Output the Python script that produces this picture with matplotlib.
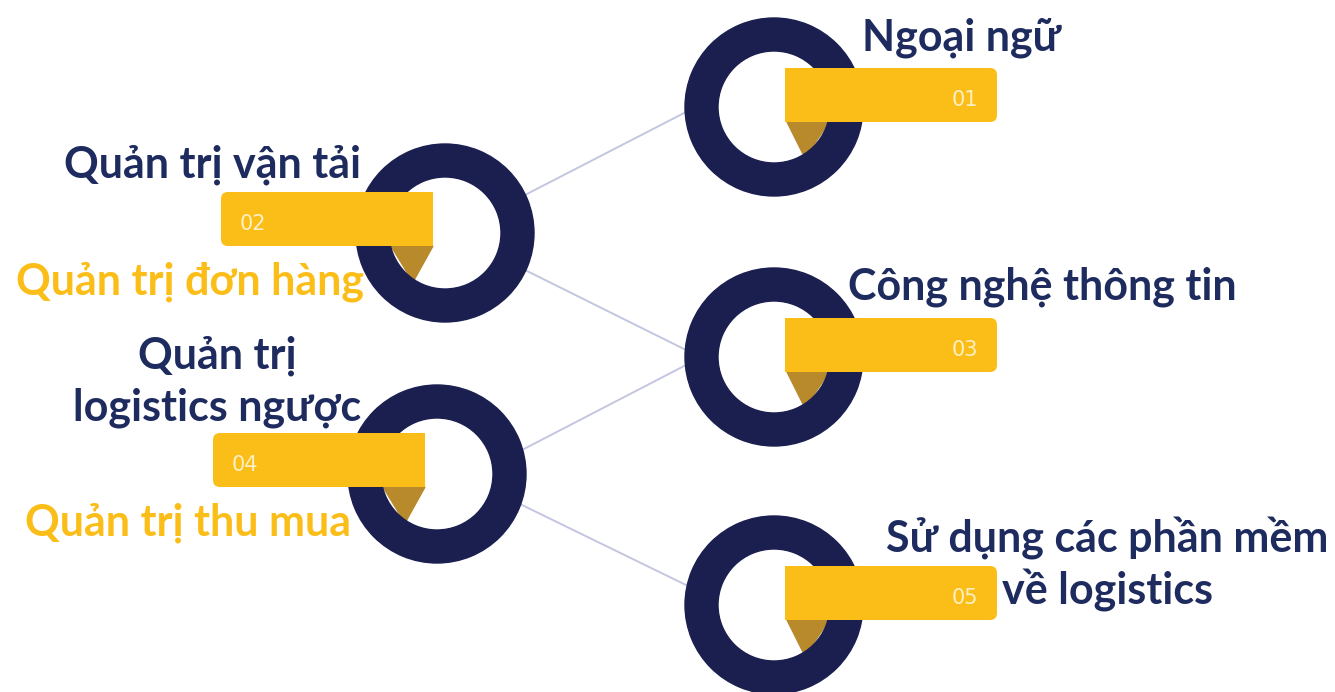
#!/usr/bin/env python3
"""Five-ring skills infographic (logistics) redrawn with matplotlib patches."""

import matplotlib

matplotlib.use("Agg")
import matplotlib.pyplot as plt
from matplotlib.patches import FancyBboxPatch, Polygon, Rectangle, Wedge

# content
numbers = ["01", "02", "03", "04", "05"]
sides = ["right", "left", "right", "left", "right"]
top_labels = ["Ngoại ngữ", "Quản trị vận tải", "Công nghệ thông tin",
              "Quản trị\nlogistics ngược", "Sử dụng các phần mềm\nvề logistics"]
bottom_labels = ["", "Quản trị đơn hàng", "", "Quản trị thu mua", ""]

# layout (pixel coordinates, y down)
ring_centers = [(774, 107), (445, 233), (774, 357), (437, 474), (774, 605)]
ring_r, ring_w = 89, 33
bar_w, bar_h = 212, 54
top_pos = [(862, 38, "left"), (212, 165, "center"), (848, 287, "left"),
           (217, 382, "center"), (1107, 565, "center")]
bottom_pos = [None, (190, 282), None, (188, 523), None]
line_step = 52
link_ends = [((525, 195), (686, 112)), ((525, 270), (686, 350)),
             ((522, 450), (686, 365)), ((522, 505), (686, 585))]

NAVY = "#1a1f4f"
TEXT_NAVY = "#1e2b5e"
YELLOW = "#fbbd17"
GOLD = "#b98a2c"
LINE = "#c3c6e0"
FONT = ["Lato", "Open Sans", "DejaVu Sans"]

fig = plt.figure(figsize=(13.35, 6.92), dpi=100)
ax = fig.add_axes([0, 0, 1, 1])
ax.set_xlim(0, 1335)
ax.set_ylim(692, 0)
ax.axis("off")

for (p0, p1) in link_ends:
    ax.plot([p0[0], p1[0]], [p0[1], p1[1]], color=LINE, lw=1.4, zorder=1)

for i, (cx, cy) in enumerate(ring_centers):
    ax.add_patch(Wedge((cx, cy), ring_r, 0, 360, width=ring_w, color=NAVY, zorder=3))
    if sides[i] == "right":
        x0, y0 = cx + 11, cy - 39
        tri = [(x0 + 2, y0 + bar_h), (x0 + 44, y0 + bar_h), (x0 + 20, y0 + bar_h + 36)]
        sq = (x0, y0, bar_w / 2)
        num_x = x0 + 180
    else:
        x0, y0 = cx - 12 - bar_w, cy - 41
        tri = [(x0 + bar_w - 42, y0 + bar_h), (x0 + bar_w, y0 + bar_h),
               (x0 + bar_w - 20, y0 + bar_h + 36)]
        sq = (x0 + bar_w / 2, y0, bar_w / 2)
        num_x = x0 + 32
    ax.add_patch(Polygon(tri, closed=True, color=GOLD, zorder=2))
    ax.add_patch(FancyBboxPatch((x0, y0), bar_w, bar_h,
                                boxstyle="round,pad=0,rounding_size=7",
                                color=YELLOW, lw=0, zorder=4))
    ax.add_patch(Rectangle((sq[0], sq[1]), sq[2], bar_h, color=YELLOW, lw=0, zorder=4))
    ax.text(num_x, y0 + bar_h / 2 + 5, numbers[i], color="#fdf0c4", fontsize=15,
            family="DejaVu Sans", ha="center", va="center", zorder=5)

    tx, ty, ha = top_pos[i]
    lines = top_labels[i].split("\n")
    first = ty - line_step * (len(lines) - 1) / 2
    for k, line in enumerate(lines):
        ax.text(tx, first + k * line_step, line, color=TEXT_NAVY, fontsize=31,
                fontweight="bold", family=FONT, ha=ha, va="center", zorder=6)
    if bottom_labels[i]:
        bx, by = bottom_pos[i]
        ax.text(bx, by, bottom_labels[i], color=YELLOW, fontsize=31, fontweight="bold",
                family=FONT, ha="center", va="center", zorder=6)

fig.savefig("out.png", dpi=100, facecolor="white")
